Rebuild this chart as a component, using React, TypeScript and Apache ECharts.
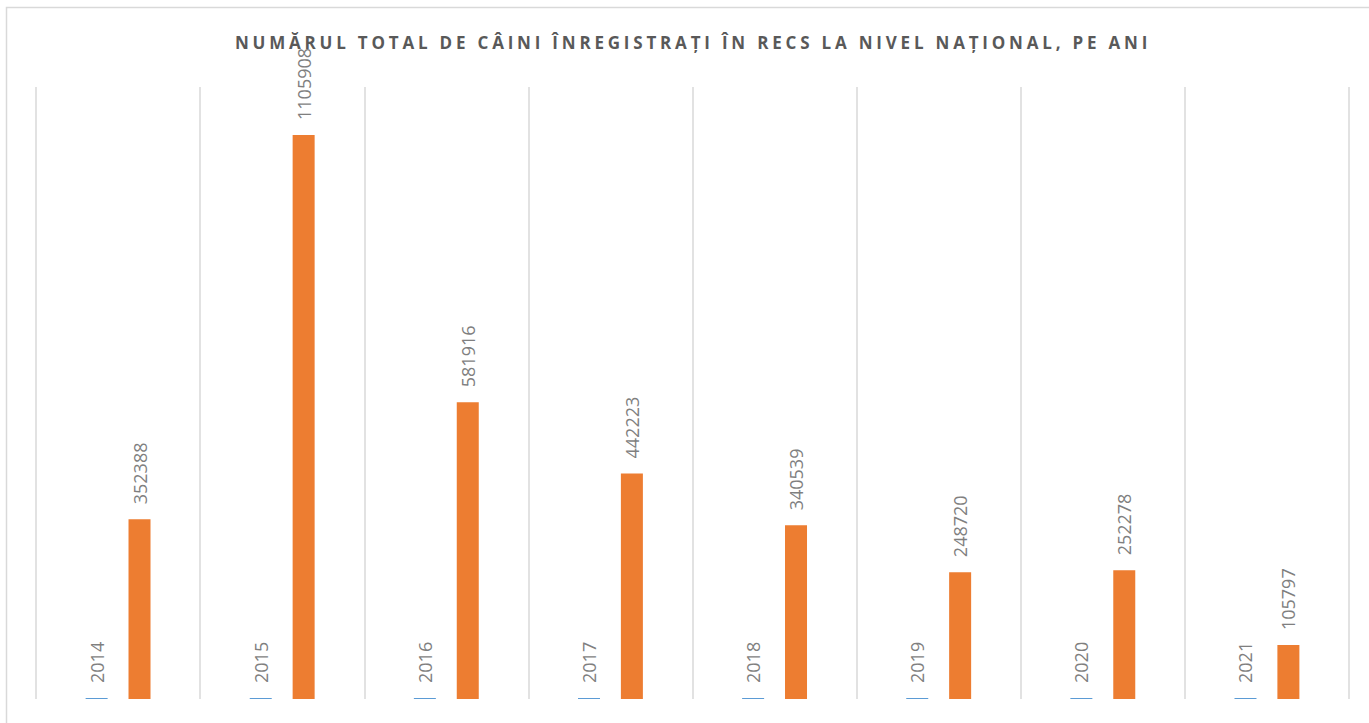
import React, { useEffect, useRef } from "react";
import * as echarts from "echarts";

const titleText = "NUMĂRUL TOTAL DE CÂINI ÎNREGISTRAȚI ÎN RECS LA NIVEL NAȚIONAL, PE ANI";
const categories = ["2014", "2015", "2016", "2017", "2018", "2019", "2020", "2021"];
const yearValues = [2014, 2015, 2016, 2017, 2018, 2019, 2020, 2021];
const dogCounts = [352388, 1105908, 581916, 442223, 340539, 248720, 252278, 105797];

export default function App() {
  const ref = useRef<HTMLDivElement>(null);
  useEffect(() => {
    if (!ref.current) return;
    const chart = echarts.init(ref.current, undefined, { renderer: "svg" });
    const labelStyle = {
      show: true,
      position: "top" as const,
      rotate: 90,
      align: "left",
      verticalAlign: "middle",
      distance: 15,
      color: "#7F7F7F",
      fontSize: 18,
      fontFamily: "Open Sans",
    };
    chart.setOption({
      animation: false,
      backgroundColor: "#FFFFFF",
      title: {
        text: titleText,
        left: 688,
        top: 29,
        textAlign: "center",
        textStyle: {
          color: "#595959",
          fontSize: 17,
          fontWeight: "bold",
          fontFamily: "Open Sans",
        },
      },
      graphic: [
        {
          type: "rect",
          shape: { x: 6.5, y: 7.5, width: 1400, height: 800 },
          style: { fill: "none", stroke: "#D9D9D9", lineWidth: 1.5 },
          silent: true,
        },
      ],
      grid: { left: 36, right: 20, top: 87, bottom: 24, containLabel: false },
      xAxis: {
        type: "category",
        data: categories,
        axisLabel: { show: false },
        axisTick: { show: false },
        axisLine: { show: false },
        splitLine: { show: true, lineStyle: { color: "#D9D9D9", width: 1.5 } },
      },
      yAxis: {
        type: "value",
        min: 0,
        max: 1200000,
        axisLabel: { show: false },
        axisTick: { show: false },
        axisLine: { show: false },
        splitLine: { show: false },
      },
      series: [
        {
          name: "An",
          type: "bar",
          data: yearValues,
          barWidth: 22,
          barGap: "95%",
          itemStyle: { color: "#5B9BD5" },
          label: labelStyle,
        },
        {
          name: "Număr câini",
          type: "bar",
          data: dogCounts,
          barWidth: 22,
          itemStyle: { color: "#ED7D31" },
          label: labelStyle,
        },
      ],
    });
    return () => chart.dispose();
  }, []);
  return (
    <>
      <style>{`text[fill="#595959"], text[fill="rgb(89,89,89)"] { letter-spacing: 3.8px; }`}</style>
      <div
        ref={ref}
        style={{ position: "fixed", left: 0, top: 0, width: 1369, height: 723, background: "#fff" }}
      />
    </>
  );
}
